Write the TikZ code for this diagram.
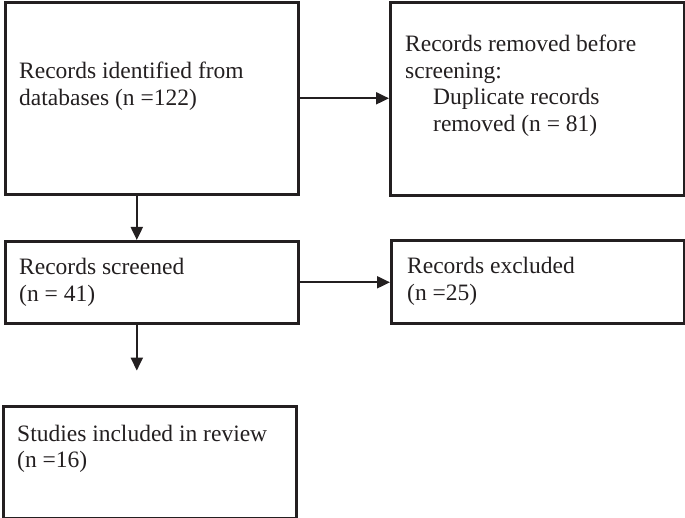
\documentclass[tikz,border=0pt]{standalone}
\usepackage{fontspec}
\setmainfont{Liberation Serif}
\usetikzlibrary{arrows.meta}
\definecolor{ink}{HTML}{231F20}
\begin{document}
\begin{tikzpicture}[x=1pt,y=-1pt,
  box/.style={draw=ink, line width=2.6pt, anchor=north west, inner sep=0pt},
  txt/.style={anchor=base west, inner sep=0pt, text=ink, font=\fontsize{23.5}{26.5}\selectfont, align=left},
  arr/.style={draw=ink, line width=2pt, -{Triangle[length=13pt,width=12pt]}}]
\useasboundingbox (0,0) rectangle (685,518);
\node[box, minimum width=293pt, minimum height=192pt] (b1) at (4,1) {};
\node[box, minimum width=294pt, minimum height=193pt] (b2) at (389,1) {};
\node[box, minimum width=293pt, minimum height=82pt] (b3) at (4,240) {};
\node[box, minimum width=293pt, minimum height=83pt] (b4) at (390,239) {};
\node[box, minimum width=293pt, minimum height=112pt] (b5) at (2,405) {};
\node[txt] (t1a) at (19,79) {Records identified from};
\node[txt] (t1b) at (19,105.5) {databases (n =122)};
\node[txt] (t2a) at (405,52) {Records removed before};
\node[txt] (t2b) at (405,78.5) {screening:};
\node[txt] (t2c) at (433,105) {Duplicate records};
\node[txt] (t2d) at (433,131.5) {removed (n = 81)};
\node[txt] (t3a) at (19,275) {Records screened};
\node[txt] (t3b) at (19,301.5) {(n = 41)};
\node[txt] (t4a) at (407,274) {Records excluded};
\node[txt] (t4b) at (407,300.5) {(n =25)};
\node[txt] (t5a) at (17,441) {Studies included in review};
\node[txt] (t5b) at (17,467.5) {(n =16)};
\coordinate (end3) at ([xshift=-15pt,yshift=-46pt]b3.south);
\draw[arr] (b1.east) -- (b1.east -| b2.west);
\draw[arr] ([xshift=-15pt]b1.south) -- ([xshift=-15pt]b1.south |- b3.north);
\draw[arr] (b3.east) -- (b3.east -| b4.west);
\draw[arr] ([xshift=-15pt]b3.south) -- (end3);
\end{tikzpicture}
\end{document}
